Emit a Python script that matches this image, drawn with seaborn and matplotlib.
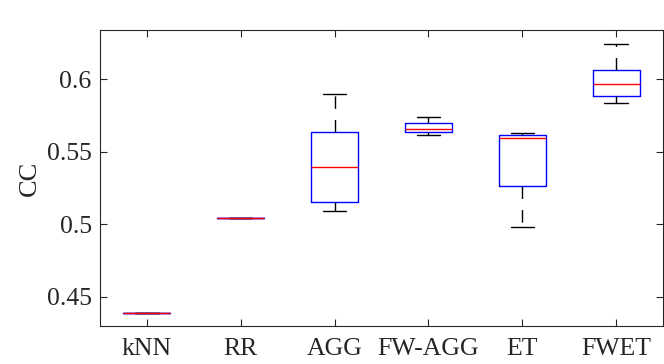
import numpy as np
import pandas as pd
import matplotlib
matplotlib.use("Agg")
import matplotlib.pyplot as plt
import seaborn as sns

# five-number summaries (min, q1, median, q3, max)
methods = ["kNN", "RR", "AGG", "FW-AGG", "ET", "FWET"]
knn = [0.4393, 0.4393, 0.4393, 0.4393, 0.4393]
rr = [0.5044, 0.5044, 0.5044, 0.5044, 0.5044]
agg = [0.5090, 0.5154, 0.5397, 0.5636, 0.5899]
fw_agg = [0.5615, 0.5640, 0.5658, 0.5700, 0.5739]
et = [0.4980, 0.5264, 0.5596, 0.5617, 0.5627]
fwet = [0.5837, 0.5888, 0.5966, 0.6062, 0.6246]

rows = []
for name, vals in zip(methods, [knn, rr, agg, fw_agg, et, fwet]):
    for v in vals:
        rows.append({"method": name, "CC": v})
df = pd.DataFrame(rows)

sns.set_style("ticks")
plt.rcParams["font.family"] = ["Liberation Serif", "DejaVu Serif"]

fig = plt.figure(figsize=(6.64, 3.64), dpi=100)
ax = fig.add_axes([0.1506, 0.1044, 0.8479, 0.8132])

sns.boxplot(data=df, x="method", y="CC", order=methods, ax=ax,
            width=0.5, whis=(0, 100), fill=False, linewidth=1.0,
            boxprops=dict(color="blue", zorder=2),
            medianprops=dict(color="red", zorder=4),
            whiskerprops=dict(color="black", linestyle=(0, (9, 8))),
            capprops=dict(color="black"))

ax.set_xlim(-0.5, 5.5)
ax.set_ylim(0.43, 0.634)
ax.set_yticks([0.45, 0.5, 0.55, 0.6])
ax.set_yticklabels(["0.45", "0.5", "0.55", "0.6"])
ax.set_xlabel("")
ax.set_ylabel("CC", fontsize=19, color="#262626")
ax.tick_params(direction="in", top=True, right=True, length=5, width=0.8,
               labelsize=18.5, colors="#262626", labelcolor="#262626")
ax.tick_params(axis="x", pad=9)
ax.tick_params(axis="y", pad=6)
for s in ax.spines.values():
    s.set_visible(True)
    s.set_color("#262626")
    s.set_linewidth(0.8)

fig.savefig("out.png", dpi=100)
